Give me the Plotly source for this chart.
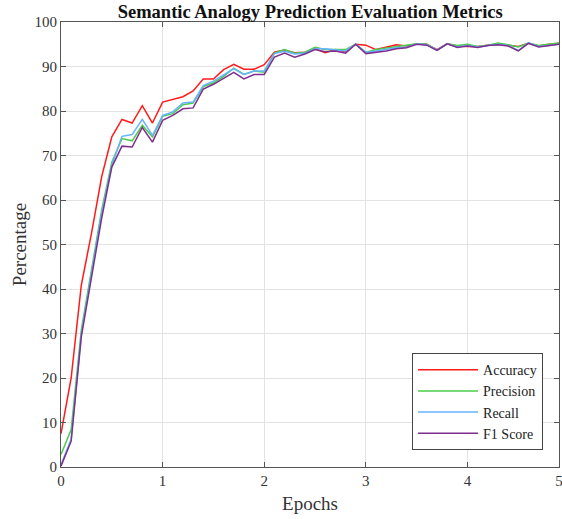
import plotly.graph_objects as go

epochs = [0.0, 0.1, 0.2, 0.3, 0.4, 0.5, 0.6, 0.7, 0.8, 0.9,
          1.0, 1.1, 1.2, 1.3, 1.4, 1.5, 1.6, 1.7, 1.8, 1.9,
          2.0, 2.1, 2.2, 2.3, 2.4, 2.5, 2.6, 2.7, 2.8, 2.9,
          3.0, 3.1, 3.2, 3.3, 3.4, 3.5, 3.6, 3.7, 3.8, 3.9,
          4.0, 4.1, 4.2, 4.3, 4.4, 4.5, 4.6, 4.7, 4.8, 4.9]

accuracy = [7.5, 20.0, 40.9, 52.5, 65.2, 74.2, 78.1, 77.3, 81.2, 77.3,
            82.0, 82.6, 83.2, 84.5, 87.2, 87.2, 89.3, 90.5, 89.4, 89.4,
            90.4, 93.2, 93.7, 93.1, 93.2, 94.0, 93.1, 93.8, 93.3, 95.0,
            94.8, 93.8, 94.4, 94.9, 94.6, 95.1, 95.0, 93.8, 95.1, 94.6,
            94.5, 94.5, 94.8, 95.0, 94.8, 94.5, 95.2, 94.6, 95.0, 95.2]

precision = [2.8, 8.4, 30.8, 44.3, 57.7, 68.5, 73.8, 73.3, 76.8, 74.2,
             78.8, 79.4, 81.4, 81.8, 85.5, 86.3, 87.8, 89.6, 88.2, 89.0,
             88.7, 93.0, 93.8, 93.0, 93.2, 94.3, 93.8, 93.8, 93.8, 95.0,
             93.2, 93.8, 94.1, 94.4, 94.8, 95.1, 95.0, 93.7, 95.1, 94.7,
             95.0, 94.5, 94.8, 95.3, 94.9, 94.4, 95.3, 94.7, 95.0, 95.3]

recall = [0.5, 6.3, 29.8, 43.5, 57.0, 67.8, 74.3, 74.7, 78.1, 74.5,
          79.0, 79.8, 81.8, 82.0, 85.7, 86.7, 88.2, 89.5, 88.2, 89.0,
          89.0, 92.9, 93.4, 92.8, 93.0, 94.0, 94.0, 93.8, 93.5, 95.0,
          93.2, 93.5, 93.8, 94.2, 94.3, 95.1, 94.9, 93.7, 95.1, 94.4,
          94.7, 94.4, 94.7, 95.0, 94.7, 93.6, 95.3, 94.5, 94.7, 95.0]

f1_score = [0.2, 5.8, 29.3, 42.8, 55.9, 67.4, 72.1, 71.9, 76.3, 73.0,
            77.9, 79.0, 80.5, 80.7, 84.9, 86.0, 87.3, 88.7, 87.2, 88.2,
            88.2, 92.1, 93.0, 92.1, 92.8, 93.8, 93.3, 93.5, 93.0, 95.0,
            92.9, 93.2, 93.5, 94.0, 94.2, 95.0, 94.8, 93.6, 95.1, 94.3,
            94.6, 94.3, 94.7, 94.9, 94.6, 93.5, 95.2, 94.4, 94.7, 95.0]

x_tick_vals = [0, 1, 2, 3, 4, 4.9]
x_tick_text = ["0", "1", "2", "3", "4", "5"]
y_tick_vals = [0, 10, 20, 30, 40, 50, 60, 70, 80, 90, 100]

series = [
    ("Accuracy", accuracy, "#FF1A1A"),
    ("Precision", precision, "#4CCC4C"),
    ("Recall", recall, "#66B3FF"),
    ("F1 Score", f1_score, "#7E2F8E"),
]

FONT = "Liberation Serif, Times New Roman, serif"

fig = go.Figure()
for name, vals, color in series:
    fig.add_trace(go.Scatter(x=epochs, y=vals, mode="lines", name=name,
                             line=dict(color=color, width=1.5)))

axis_common = dict(
    showline=True, linecolor="#555555", linewidth=1.2, mirror="ticks",
    ticks="inside", ticklen=5, tickcolor="#555555", tickwidth=1,
    showgrid=True, gridcolor="#E3E3E3", gridwidth=1,
    zeroline=False, ticklabeloverflow="allow", automargin=False,
    tickfont=dict(family=FONT, size=15, color="#333333"),
)

fig.update_layout(
    width=562, height=519,
    margin=dict(l=61, r=3, t=22, b=52),
    paper_bgcolor="white", plot_bgcolor="white",
    title=dict(text="<b>Semantic Analogy Prediction Evaluation Metrics</b>",
               x=0.552, xanchor="center", y=0.978, yanchor="middle",
               font=dict(family=FONT, size=18.5, color="#111111")),
    xaxis=dict(range=[0, 4.9005], tickvals=x_tick_vals, ticktext=x_tick_text,
               title=dict(text="Epochs", font=dict(family=FONT, size=19, color="#333333"), standoff=8),
               **axis_common),
    yaxis=dict(range=[0, 100], tickvals=y_tick_vals,
               title=dict(text="Percentage", font=dict(family=FONT, size=19, color="#333333"), standoff=2),
               **axis_common),
    legend=dict(x=0.968, xanchor="right", y=0.038, yanchor="bottom",
                bgcolor="white", bordercolor="#444444", borderwidth=1,
                font=dict(family=FONT, size=14, color="#222222"),
                tracegroupgap=0, itemwidth=60),
    showlegend=True,
)

fig.write_html("out.html")
